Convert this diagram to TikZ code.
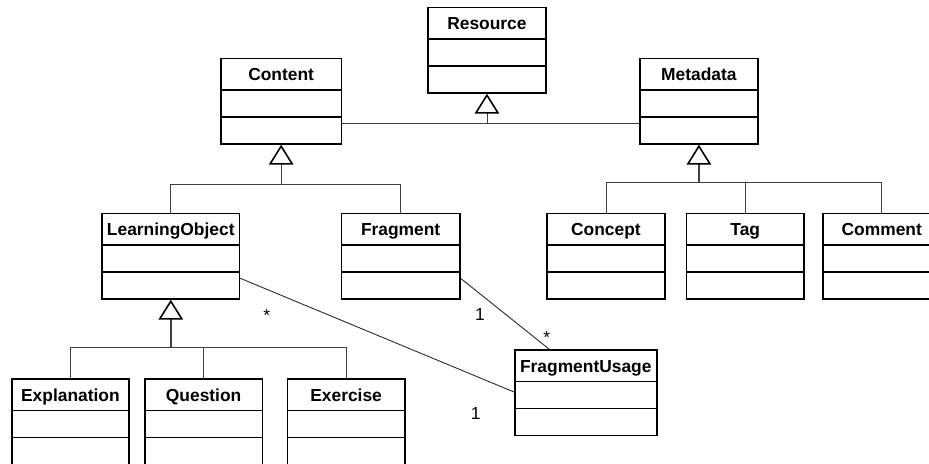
\documentclass[tikz,border=0pt]{standalone}
\usepackage{fontspec}
\setmainfont{Liberation Sans}
\usetikzlibrary{positioning}
\usetikzlibrary{shapes}
\usetikzlibrary{arrows.meta}

\newcommand{\namerow}{\rule[-0.165cm]{0pt}{0.593cm}}
\newcommand{\emptyrow}{\rule{0pt}{0.51cm}}

\begin{document}
\begin{tikzpicture}[
  umlclass/.style={rectangle split, rectangle split parts=3, draw=black, line width=0.9pt,
    inner xsep=0pt, inner ysep=0pt, text width=#1, align=center, anchor=north west,
    font=\bfseries\fontsize{9.9}{12}\selectfont},
  bus/.style={black!75, line width=0.5pt},
  gen/.style={black!75, line width=0.5pt,
    -{Triangle[open, length=0.4cm, width=0.49cm, line width=0.9pt, color=black]}},
  assoc/.style={black!85, line width=0.5pt},
  mult/.style={anchor=base, inner sep=0pt, font=\fontsize{9.9}{12}\selectfont}
]
\useasboundingbox (0,0) rectangle (18.58,-9.26);

%top classes
\node[umlclass=2.354cm] (res) at (8.546,-0.134) {\namerow Resource\nodepart{two}\emptyrow\nodepart{three}\emptyrow};
\node[umlclass=2.414cm] (content) at (4.40,-1.154) {\namerow Content\nodepart{two}\emptyrow\nodepart{three}\emptyrow};
\node[umlclass=2.354cm] (meta) at (12.786,-1.154) {\namerow Metadata\nodepart{two}\emptyrow\nodepart{three}\emptyrow};
%middle classes
\node[umlclass=2.748cm] (lo) at (2.026,-4.254) {\namerow LearningObject\nodepart{two}\emptyrow\nodepart{three}\emptyrow};
\node[umlclass=2.366cm] (frag) at (6.814,-4.254) {\namerow Fragment\nodepart{two}\emptyrow\nodepart{three}\emptyrow};
\node[umlclass=2.366cm] (concept) at (10.92,-4.254) {\namerow Concept\nodepart{two}\emptyrow\nodepart{three}\emptyrow};
\node[umlclass=2.352cm] (tag) at (13.714,-4.254) {\namerow Tag\nodepart{two}\emptyrow\nodepart{three}\emptyrow};
\node[umlclass=2.36cm] (comment) at (16.44,-4.254) {\namerow Comment\nodepart{two}\emptyrow\nodepart{three}\emptyrow};
%bottom classes
\node[umlclass=2.84cm] (fu) at (10.28,-6.986) {\namerow FragmentUsage\nodepart{two}\emptyrow\nodepart{three}\emptyrow};
\node[umlclass=2.346cm] (expl) at (0.22,-7.566) {\namerow Explanation\nodepart{two}\emptyrow\nodepart{three}\emptyrow};
\node[umlclass=2.354cm] (quest) at (2.88,-7.566) {\namerow Question\nodepart{two}\emptyrow\nodepart{three}\emptyrow};
\node[umlclass=2.346cm] (exer) at (5.734,-7.566) {\namerow Exercise\nodepart{two}\emptyrow\nodepart{three}\emptyrow};

%bus points
\coordinate[below=0.588cm of res.south] (resbus);
\coordinate[below=0.786cm of content.south] (contentbus);
\coordinate[below=0.746cm of meta.south] (metabus);
\coordinate[below=0.96cm of lo.south] (lobus);

%generalisation
\draw[bus] (content.east |- resbus) -- (meta.west |- resbus);
\draw[gen] (resbus) -- (res.south);

\draw[bus] (lo.north) |- (contentbus);
\draw[bus] (frag.north) |- (contentbus);
\draw[gen] (contentbus) -- (content.south);

\draw[bus] (concept.north) |- (metabus);
\draw[bus] (tag.north) |- (metabus);
\draw[bus] (comment.north) |- (metabus);
\draw[gen, line width=0.9pt] (metabus) -- (meta.south);

\draw[bus] (expl.north) |- (lobus);
\draw[bus] (quest.north) |- (lobus);
\draw[bus] (exer.north) |- (lobus);
\draw[gen, line width=0.9pt] (lobus) -- (lo.south);

%associations
\draw[assoc] ([yshift=-1.312cm]lo.north east) -- ([yshift=-0.854cm]fu.north west);
\draw[assoc] ([yshift=-1.312cm]frag.north east) -- ([xshift=0.706cm]fu.north west);

%multiplicities
\node[mult] (mlo) at (5.334,-6.43) {*};
\node[mult] (mfrag) at (9.60,-6.40) {1};
\node[mult] (mfutop) at (10.934,-6.86) {*};
\node[mult] (mfuleft) at (9.514,-8.386) {1};

\end{tikzpicture}
\end{document}
